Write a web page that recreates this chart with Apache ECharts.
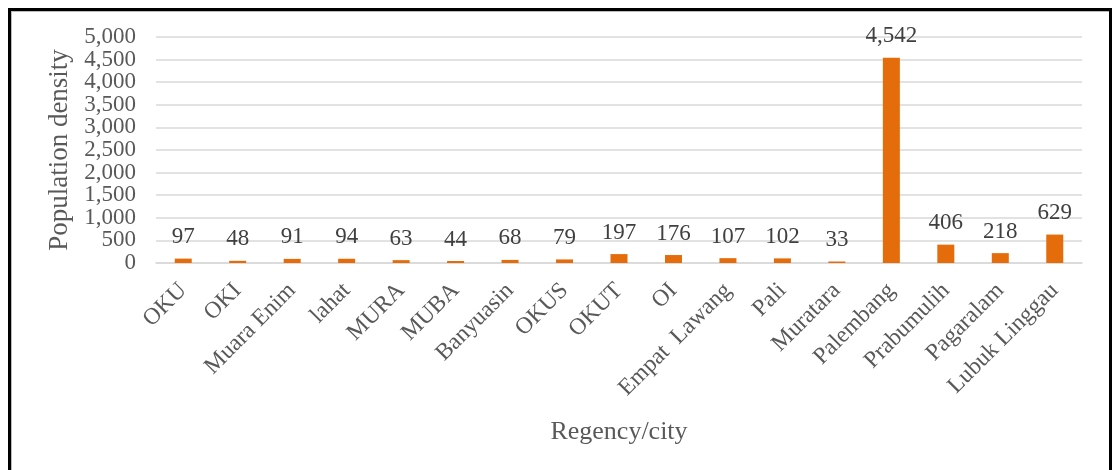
<!DOCTYPE html>
<html>
<head>
<meta charset="utf-8">
<script src="https://cdn.jsdelivr.net/npm/echarts@6/dist/echarts.min.js"></script>
<style>
    html, body { margin: 0; padding: 0; background: #fff; overflow: hidden; }
    #chart { width: 1112px; height: 470px; }
    #frame {
        position: absolute; left: 8px; top: 8px; width: 1098px; height: 480px;
        border: 3px solid #000; border-bottom: none; box-shadow: inset 1px 1px 0 #bbb;
        pointer-events: none;
    }
</style>
</head>
<body>
<div id="chart"></div>
<div id="frame"></div>
<script>
// values
const regencies = ["OKU", "OKI", "Muara Enim", "lahat", "MURA", "MUBA", "Banyuasin", "OKUS", "OKUT", "OI",
    "Empat  Lawang", "Pali", "Muratara", "Palembang", "Prabumulih", "Pagaralam", "Lubuk Linggau"];
const density = [97, 48, 91, 94, 63, 44, 68, 79, 197, 176, 107, 102, 33, 4542, 406, 218, 629];

const font = "'Liberation Serif', 'Times New Roman', serif";
const grey = "#595959";

const yLabel = {
    margin: 20,
    fontFamily: font, fontSize: 23, color: grey
};

let myChart = echarts.init(document.getElementById("chart"));
let option = {
    backgroundColor: "#fff",
    animation: false,
    grid: { left: 156, right: 30, top: 37, bottom: 207 },
    xAxis: {
        type: "category",
        data: regencies,
        name: "Regency/city",
        nameLocation: "middle",
        nameGap: 156,
        nameTextStyle: { fontFamily: font, fontSize: 26, color: grey },
        axisLine: { lineStyle: { color: "#d9d9d9", width: 1.5 } },
        axisTick: { show: false },
        axisLabel: {
            interval: 0, rotate: 45, margin: 24,
            fontFamily: font, fontSize: 23.5, color: grey
        }
    },
    // labels are tightly packed, so the 500s and the 1000s sit on two stacked axes
    yAxis: [{
        type: "value",
        min: 0, max: 5000, interval: 500,
        name: "Population density",
        nameLocation: "middle",
        nameGap: 82,
        nameTextStyle: { fontFamily: font, fontSize: 27, color: grey },
        axisLine: { show: false },
        axisTick: { show: false },
        splitLine: { lineStyle: { color: "#d9d9d9", width: 1.5 } },
        axisLabel: Object.assign({
            showMinLabel: false, showMaxLabel: false,
            formatter: v => (v % 1000 ? v.toLocaleString("en-US") : "")
        }, yLabel)
    }, {
        type: "value",
        position: "left",
        min: 0, max: 5000, interval: 1000,
        axisLine: { show: false },
        axisTick: { show: false },
        splitLine: { show: false },
        axisLabel: Object.assign({
            showMinLabel: true, showMaxLabel: true,
            formatter: v => v.toLocaleString("en-US")
        }, yLabel)
    }],
    series: [{
        type: "bar",
        data: density,
        barWidth: 17,
        itemStyle: { color: "#e46c0a" },
        label: {
            show: true, position: "top", distance: 10,
            fontFamily: font, fontSize: 23, color: "#404040",
            formatter: p => p.value.toLocaleString("en-US")
        }
    }]
};
myChart.setOption(option);
</script>
</body>
</html>
